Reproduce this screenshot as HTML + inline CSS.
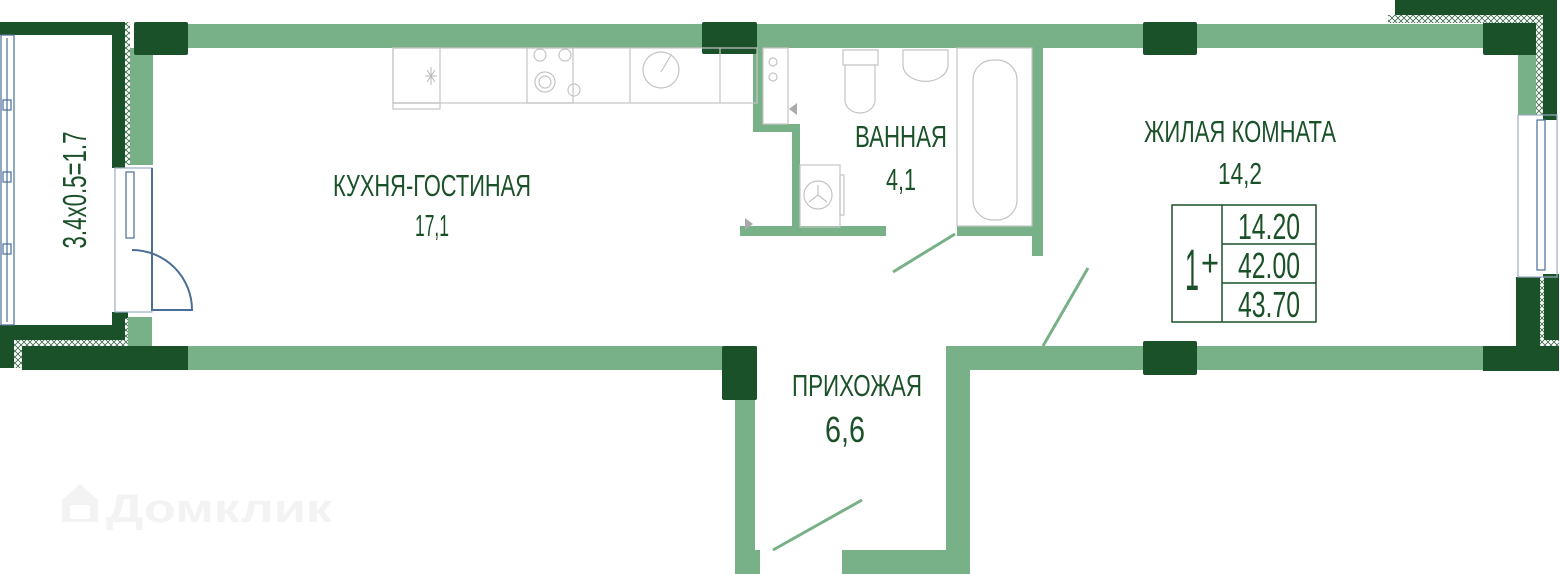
<!DOCTYPE html>
<html><head><meta charset="utf-8"><style>html,body{margin:0;padding:0;background:#fff}svg{display:block}</style></head><body>
<svg width="1560" height="574" viewBox="0 0 1560 574" xmlns="http://www.w3.org/2000/svg" font-family="Liberation Sans, sans-serif">
<defs><pattern id="h" width="6" height="6" patternUnits="userSpaceOnUse"><rect width="6" height="6" fill="#fff"/><path d="M0 0L6 6M6 0L0 6" stroke="#3a6a48" stroke-width="0.8"/></pattern></defs>
<g fill="#78b088">
<rect x="134" y="24" width="1402" height="24"/>
<rect x="128" y="48" width="25" height="117"/>
<rect x="128" y="317" width="24" height="30"/>
<rect x="22" y="346" width="735" height="24"/>
<rect x="946" y="346" width="594" height="24"/>
<rect x="946" y="346" width="24" height="228"/>
<rect x="842" y="550" width="128" height="24"/>
<rect x="735" y="400" width="20" height="174"/>
<rect x="735" y="550" width="25" height="24"/>
<rect x="1518" y="48" width="20" height="67"/>
<rect x="753" y="48" width="10" height="84"/>
<rect x="753" y="124" width="47" height="8"/>
<rect x="792" y="124" width="8" height="108"/>
<rect x="740" y="226" width="146" height="10"/>
<rect x="957" y="226" width="80" height="10"/>
<rect x="1032" y="48" width="11" height="208"/>
</g>
<g stroke="#78b088" stroke-width="3"><line x1="893" y1="272" x2="955" y2="234"/><line x1="1043" y1="346" x2="1088" y2="268"/><line x1="773" y1="550" x2="862" y2="500"/></g>
<g fill="#1b5129">
<rect x="134" y="22" width="54" height="33" rx="2"/>
<rect x="702" y="22" width="55" height="32" rx="2"/>
<rect x="1143" y="22" width="54" height="33" rx="2"/>
<rect x="1483" y="22" width="54" height="33" rx="2"/>
<rect x="22" y="346" width="166" height="24"/>
<rect x="722" y="346" width="35" height="54" rx="2"/>
<rect x="1143" y="341" width="54" height="34" rx="2"/>
<rect x="1483" y="346" width="76" height="25"/>
<rect x="1516" y="277" width="24" height="80"/>
<rect x="1543" y="274" width="16" height="66"/>
<rect x="1395" y="0" width="162" height="15"/>
<rect x="1543" y="0" width="14" height="120"/>
<rect x="0" y="22" width="125" height="13"/>
<rect x="112" y="22" width="13" height="146"/>
<rect x="0" y="325" width="128" height="18"/>
<rect x="112" y="312" width="16" height="15"/>
<rect x="0" y="325" width="14" height="43"/>
</g>
<g fill="url(#h)">
<rect x="1388" y="15" width="155" height="8"/><rect x="1536" y="15" width="7" height="100"/>
<rect x="1540" y="340" width="19" height="6"/><rect x="1540" y="277" width="4" height="63"/>
<rect x="125" y="22" width="5" height="143"/><rect x="14" y="340" width="114" height="6"/><rect x="14" y="343" width="8" height="25"/><rect x="125" y="318" width="3" height="27"/>
</g>
<g fill="none" stroke="#4a6e96" stroke-width="1.2">
<rect x="1" y="35" width="13" height="290"/><line x1="7" y1="38" x2="7" y2="322"/>
<rect x="3" y="100" width="8" height="10"/><rect x="3" y="172" width="8" height="10"/><rect x="3" y="244" width="8" height="10"/>
<rect x="115" y="168" width="37" height="144" stroke="#9aaec4"/>
<rect x="126" y="172" width="8" height="66"/>
<path d="M132 250 A60 60 0 0 1 192 310 L152 310 L152 168" stroke-width="2"/>
<rect x="1518" y="115" width="39" height="162" stroke="#9aaec4"/>
<rect x="1537" y="120" width="8" height="150"/>
</g>
<g fill="none" stroke="#c4c4c4" stroke-width="1.2">
<rect x="393" y="48" width="364" height="55"/>
<rect x="393" y="48" width="47" height="55"/><rect x="393" y="103" width="47" height="6"/>
<rect x="527" y="48" width="46" height="55"/>
<circle cx="540" cy="55" r="6"/><circle cx="565" cy="55" r="6"/><circle cx="545" cy="82" r="10"/><circle cx="545" cy="82" r="6"/><circle cx="574" cy="90" r="6"/>
<circle cx="661" cy="70" r="18"/><line x1="661" y1="72" x2="671" y2="55"/>
<line x1="630" y1="48" x2="630" y2="103"/><line x1="720" y1="48" x2="720" y2="103"/>
<rect x="763" y="48" width="25" height="76"/><circle cx="773" cy="62" r="4"/><circle cx="773" cy="77" r="4"/>
<path d="M843 50 h35 v15 h-35z M845 65 h30 v35 a15 13 0 0 1 -30 0z"/>
<path d="M903 50 h45 v15 a22 16 0 0 1 -45 0z"/>
<rect x="957" y="48" width="75" height="178"/><rect x="973" y="60" width="44" height="160" rx="20"/>
<rect x="800" y="165" width="40" height="62"/><rect x="840" y="175" width="4" height="40"/><circle cx="818" cy="195" r="14"/>
<path d="M818 195v-10M818 195l-9 7M818 195l9 7"/>
</g>
<path d="M427 70l8 12M435 70l-8 12M425 76h12M431 67v18" stroke="#bbb" stroke-width="1"/>
<path d="M797 103 l-8 6 l8 6z M745 218 l8 6 l-8 6z" fill="#aaa"/>
<g fill="#1b5129" text-anchor="middle" font-size="31">
<text x="432" y="196" textLength="198" lengthAdjust="spacingAndGlyphs">КУХНЯ-ГОСТИНАЯ</text>
<text x="432" y="236" textLength="34" lengthAdjust="spacingAndGlyphs">17,1</text>
<text x="901" y="147" textLength="92" lengthAdjust="spacingAndGlyphs">ВАННАЯ</text>
<text x="901" y="190" textLength="30" lengthAdjust="spacingAndGlyphs">4,1</text>
<text x="1240" y="142" textLength="192" lengthAdjust="spacingAndGlyphs">ЖИЛАЯ КОМНАТА</text>
<text x="1240" y="184" textLength="44" lengthAdjust="spacingAndGlyphs">14,2</text>
<text x="857" y="396" textLength="130" lengthAdjust="spacingAndGlyphs">ПРИХОЖАЯ</text>
<text x="845" y="442" font-size="36" textLength="40" lengthAdjust="spacingAndGlyphs">6,6</text>
<text transform="translate(86 190) rotate(-90)" font-size="33" textLength="117" lengthAdjust="spacingAndGlyphs">3.4x0.5=1.7</text>
</g>
<g fill="none" stroke="#1b5129" stroke-width="1.5"><rect x="1172" y="205" width="144" height="117"/><line x1="1222" y1="205" x2="1222" y2="322"/><line x1="1222" y1="244" x2="1316" y2="244"/><line x1="1222" y1="283" x2="1316" y2="283"/></g>
<g fill="#1b5129" font-size="36" text-anchor="middle">
<text x="1269" y="239" textLength="62" lengthAdjust="spacingAndGlyphs">14.20</text>
<text x="1269" y="278" textLength="62" lengthAdjust="spacingAndGlyphs">42.00</text>
<text x="1269" y="317" textLength="62" lengthAdjust="spacingAndGlyphs">43.70</text>
<text x="1192" y="290" font-size="58" textLength="14" lengthAdjust="spacingAndGlyphs">1</text>
<text x="1210" y="276" font-size="38" textLength="18" lengthAdjust="spacingAndGlyphs">+</text>
</g>
<g opacity="0.3" fill="#d8d8d8"><path d="M62 500 l18 -16 l18 16 v22 h-36z M70 505 h20 v14 h-20z" fill-rule="evenodd"/>
<text x="106" y="522" font-size="40" font-weight="bold" textLength="226" lengthAdjust="spacingAndGlyphs">Домклик</text></g>
</svg>
</body></html>
